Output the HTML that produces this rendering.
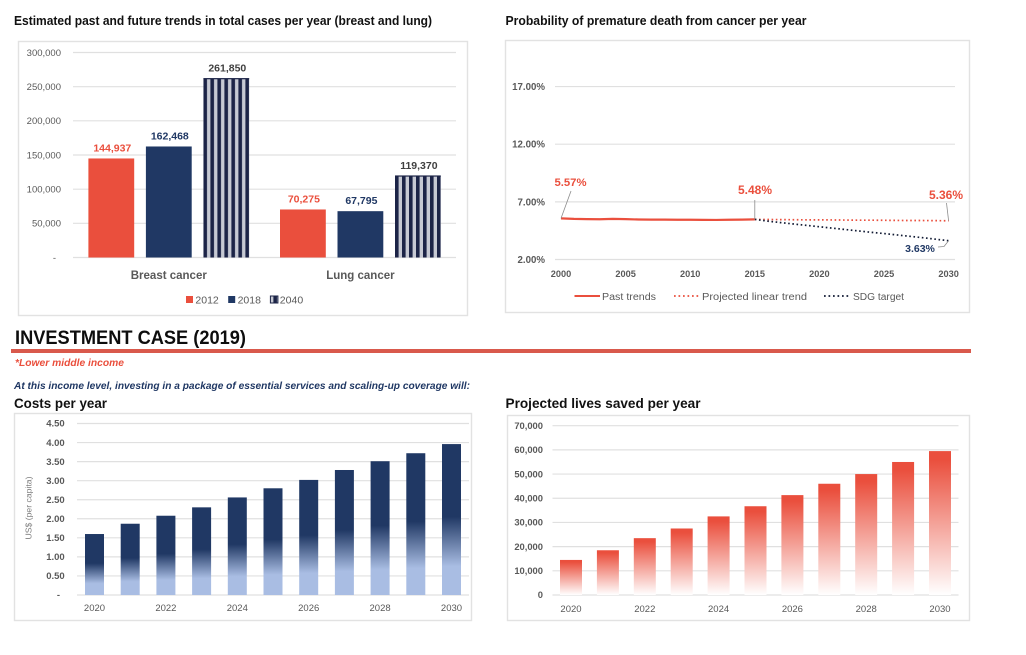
<!DOCTYPE html>
<html lang="en">
<head>
<meta charset="utf-8">
<title>Investment case charts</title>
<style>
html,body{margin:0;padding:0;background:#fff;}
svg{display:block;font-family:"Liberation Sans",sans-serif;}
</style>
</head>
<body>
<svg id="page" xmlns="http://www.w3.org/2000/svg" width="1026" height="655" viewBox="0 0 1026 655">
  <defs id="defs">
    <linearGradient id="navyFade" x1="0" y1="0" x2="0" y2="1">
      <stop offset="0.48" stop-color="#203864"/>
      <stop offset="0.81" stop-color="#a9bde3"/>
    </linearGradient>
    <linearGradient id="redFade" x1="0" y1="0" x2="0" y2="1">
      <stop offset="0.06" stop-color="#ea4f3d"/>
      <stop offset="1" stop-color="#ffffff"/>
    </linearGradient>
  </defs>
  <rect width="1026" height="655" fill="#fff"/>

  <text x="14" y="25" font-size="12.5" font-weight="bold" fill="#111" textLength="418" lengthAdjust="spacingAndGlyphs">Estimated past and future trends in total cases per year (breast and lung)</text>
  <text x="505.5" y="25" font-size="12.5" font-weight="bold" fill="#111" textLength="301" lengthAdjust="spacingAndGlyphs">Probability of premature death from cancer per year</text>

  <rect x="18.5" y="41.5" width="449" height="274" fill="#fff" stroke="#e2e2e2" stroke-width="1.4"/>
  <rect x="505.5" y="40.5" width="464" height="272" fill="#fff" stroke="#e2e2e2" stroke-width="1.4"/>
  <rect x="14.5" y="413.5" width="457" height="207" fill="#fff" stroke="#e2e2e2" stroke-width="1.4"/>
  <rect x="507.5" y="415.5" width="462" height="205" fill="#fff" stroke="#e2e2e2" stroke-width="1.4"/>

  <text x="15" y="344" font-size="19" font-weight="bold" fill="#0d0d0d" textLength="231" lengthAdjust="spacingAndGlyphs">INVESTMENT CASE (2019)</text>
  <rect x="11" y="349" width="960" height="4" fill="#d9594c"/>
  <text x="15" y="366" font-size="10.5" font-weight="bold" font-style="italic" fill="#ea4f3d" textLength="109" lengthAdjust="spacingAndGlyphs">*Lower middle income</text>
  <text x="14" y="389" font-size="10.5" font-weight="bold" font-style="italic" fill="#203864" textLength="456" lengthAdjust="spacingAndGlyphs">At this income level, investing in a package of essential services and scaling-up coverage will:</text>
  <text x="14" y="408" font-size="14" font-weight="bold" fill="#111" textLength="93" lengthAdjust="spacingAndGlyphs">Costs per year</text>
  <text x="505.5" y="408" font-size="14" font-weight="bold" fill="#111" textLength="195" lengthAdjust="spacingAndGlyphs">Projected lives saved per year</text>

  <g id="cases"></g>
  <g id="death"></g>
  <g id="costs"></g>
  <g id="lives"></g>
</svg>

<script>
/* ---------- Cases chart data ---------- */
const caseGroups = ['Breast cancer', 'Lung cancer'];
const caseYears = ['2012', '2018', '2040'];
const cases2012 = [144937, 70275];
const cases2018 = [162468, 67795];
const cases2040 = [261850, 119370];
const caseTicks = [0, 50000, 100000, 150000, 200000, 250000, 300000];
const caseTickLabels = ['-', '50,000', '100,000', '150,000', '200,000', '250,000', '300,000'];

/* ---------- Death probability chart data ---------- */
const deathTicks = [2, 7, 12, 17];
const deathTickLabels = ['2.00%', '7.00%', '12.00%', '17.00%'];
const deathYearLabels = [2000, 2005, 2010, 2015, 2020, 2025, 2030];
const pastYears = [2000, 2001, 2002, 2003, 2004, 2005, 2006, 2007, 2008, 2009, 2010, 2011, 2012, 2013, 2014, 2015];
const pastValues = [5.57, 5.52, 5.50, 5.49, 5.52, 5.50, 5.47, 5.46, 5.46, 5.45, 5.45, 5.44, 5.43, 5.45, 5.46, 5.48];
const futureYears = [2015, 2016, 2017, 2018, 2019, 2020, 2021, 2022, 2023, 2024, 2025, 2026, 2027, 2028, 2029, 2030];
const linearValues = [5.48, 5.47, 5.46, 5.45, 5.44, 5.44, 5.43, 5.42, 5.41, 5.41, 5.40, 5.39, 5.38, 5.38, 5.37, 5.36];
const sdgValues = [5.48, 5.33, 5.20, 5.08, 4.96, 4.84, 4.72, 4.60, 4.48, 4.36, 4.25, 4.13, 4.01, 3.89, 3.76, 3.63];

/* ---------- Costs chart data ---------- */
const costYears = [2020, 2021, 2022, 2023, 2024, 2025, 2026, 2027, 2028, 2029, 2030];
const costValues = [1.60, 1.87, 2.08, 2.30, 2.56, 2.80, 3.02, 3.28, 3.51, 3.72, 3.96];
const costTicks = [0, 0.5, 1, 1.5, 2, 2.5, 3, 3.5, 4, 4.5];
const costTickLabels = ['-', '0.50', '1.00', '1.50', '2.00', '2.50', '3.00', '3.50', '4.00', '4.50'];

/* ---------- Lives chart data ---------- */
const lifeYears = [2020, 2021, 2022, 2023, 2024, 2025, 2026, 2027, 2028, 2029, 2030];
const lifeValues = [14500, 18500, 23500, 27500, 32500, 36700, 41300, 46000, 50000, 55000, 59500];
const lifeTicks = [0, 10000, 20000, 30000, 40000, 50000, 60000, 70000];
const lifeTickLabels = ['0', '10,000', '20,000', '30,000', '40,000', '50,000', '60,000', '70,000'];

const NS = 'http://www.w3.org/2000/svg';
const GRID = '#e0e0e0';
const GREY = '#595959';
const RED = '#ea4f3d';
const NAVY = '#203864';

function mk(parent, tag, attrs, txt) {
  const el = document.createElementNS(NS, tag);
  for (const k in attrs) el.setAttribute(k, attrs[k]);
  if (txt !== undefined) el.textContent = txt;
  parent.appendChild(el);
  return el;
}
function linePath(xs, ys) {
  return xs.map((x, i) => (i ? 'L' : 'M') + x.toFixed(2) + ' ' + ys[i].toFixed(2)).join(' ');
}

/* ========== Cases chart ========== */
(function () {
  const g = document.getElementById('cases');
  const defs = document.getElementById('defs');
  const y = v => 257.5 - v / 300000 * 205;
  const groupW = 191.6, left = 73, barW = 45.8, barStep = 57.5;
  const groupX = i => left + groupW * (i + 0.5);
  const barX = (i, s) => groupX(i) + (s - 1) * barStep - barW / 2;

  caseTicks.forEach((t, i) => {
    const ln = mk(g, 'line', {x1: 73, x2: 456, y1: y(t), y2: y(t), stroke: GRID, 'stroke-width': 1.2});
    
    
    const tx = mk(g, 'text', {x: t === 0 ? 56 : 61, y: y(t) + 3.4, 'text-anchor': 'end', 'font-size': 9.5, fill: GREY}, caseTickLabels[i]);
    
    
  });

  const series = [cases2012, cases2018, cases2040];
  const labelColors = [RED, NAVY, '#404040'];
  series.forEach((vals, s) => {
    vals.forEach((v, i) => {
      let fill;
      if (s === 2) {
        const id = 'stripe' + i;
        const p = mk(defs, 'pattern', {id: id, patternUnits: 'userSpaceOnUse', x: barX(i, s), y: 0, width: 7, height: 10});
        mk(p, 'rect', {x: 0, y: 0, width: 7, height: 10, fill: '#c6c9d3'});
        mk(p, 'rect', {x: 0, y: 0, width: 3.6, height: 10, fill: '#1c2447'});
        fill = 'url(#' + id + ')';
      } else {
        fill = s === 0 ? RED : NAVY;
      }
      const b = mk(g, 'rect', {x: barX(i, s), y: y(v), width: barW, height: y(0) - y(v), fill: fill});
      
      
      if (s === 2) {
        const cap = mk(g, 'rect', {x: barX(i, s), y: y(v) - 0.5, width: barW, height: 1.2, fill: '#1c2447'});
        
        
      }
      const t = mk(g, 'text', {x: barX(i, s) + barW / 2 + 1, y: y(v) - 7, 'text-anchor': 'middle', 'font-size': 10.5, 'font-weight': 'bold', fill: labelColors[s]}, v.toLocaleString('en-US'));
      
      
    });
  });

  caseGroups.forEach((c, i) => {
    const t = mk(g, 'text', {x: groupX(i), y: 279, 'text-anchor': 'middle', 'font-size': 11.5, 'font-weight': 'bold', fill: GREY}, c);
    
    
  });

  caseYears.forEach((yr, i) => {
    const sx = 186 + i * 42.2;
    const sw = mk(g, 'rect', {x: sx, y: 296, width: i === 2 ? 7.5 : 7, height: 7, fill: i === 0 ? RED : i === 1 ? NAVY : 'url(#stripe0)', stroke: i === 2 ? '#1c2447' : 'none'});
    
    
    const t = mk(g, 'text', {x: sx + 9.4, y: 303.5, 'font-size': 10.5, fill: GREY}, yr);
    
    
  });
})();

/* ========== Death probability chart ========== */
(function () {
  const g = document.getElementById('death');
  const y = v => 259.5 - (v - 2) * 11.53;
  const x = yr => 561 + (yr - 2000) * 12.92;

  deathTicks.forEach((t, i) => {
    const ln = mk(g, 'line', {x1: 555, x2: 955, y1: y(t), y2: y(t), stroke: GRID, 'stroke-width': 1.2});
    
    
    const tx = mk(g, 'text', {x: 545, y: y(t) + 3.4, 'text-anchor': 'end', 'font-size': 9.7, 'font-weight': 'bold', fill: GREY}, deathTickLabels[i]);
    
    
  });
  deathYearLabels.forEach(yr => {
    const tx = mk(g, 'text', {x: x(yr), y: 277, 'text-anchor': 'middle', 'font-size': 9.2, 'font-weight': 'bold', fill: GREY}, yr);
    
    
  });

  const fx = futureYears.map(x);
  const linear = mk(g, 'path', {d: linePath(fx, linearValues.map(y)), fill: 'none', stroke: RED, 'stroke-width': 1.7, 'stroke-dasharray': '1.6 2.6'});
  
  
  const sdg = mk(g, 'path', {d: linePath(fx, sdgValues.map(y)), fill: 'none', stroke: '#111a33', 'stroke-width': 1.7, 'stroke-dasharray': '1.6 2.6'});
  
  
  const past = mk(g, 'path', {d: linePath(pastYears.map(x), pastValues.map(y)), fill: 'none', stroke: RED, 'stroke-width': 2.2});
  
  

  const last = a => a[a.length - 1];
  const leaders = [
    [[571, 191], [x(2000), y(pastValues[0])]],
    [[x(2015), 200], [x(2015), y(last(pastValues))]],
    [[946.5, 203], [x(2030), y(last(linearValues))]],
    [[938, 247], [944, 246.5], [x(2030), y(last(sdgValues))]]
  ];
  leaders.forEach(pts => {
    const ln = mk(g, 'polyline', {points: pts.map(p => p.join(',')).join(' '), fill: 'none', stroke: '#8c8c8c', 'stroke-width': 0.8});
    
    
  });

  const labels = [
    [570.5, 186, pastValues[0], RED, 11.3],
    [755, 194, last(pastValues), RED, 12],
    [946, 199, last(linearValues), RED, 12],
    [920, 252, last(sdgValues), NAVY, 10.5]
  ];
  labels.forEach(l => {
    const t = mk(g, 'text', {x: l[0], y: l[1], 'text-anchor': 'middle', 'font-size': l[4], 'font-weight': 'bold', fill: l[3]}, l[2].toFixed(2) + '%');
    
    
  });

  const lg1 = mk(g, 'line', {x1: 574.5, x2: 600, y1: 296, y2: 296, stroke: RED, 'stroke-width': 2});
  
  
  const lt1 = mk(g, 'text', {x: 602, y: 300, 'font-size': 10, fill: GREY, textLength: 54, lengthAdjust: 'spacingAndGlyphs'}, 'Past trends');
  
  
  const lg2 = mk(g, 'line', {x1: 674, x2: 699, y1: 296, y2: 296, stroke: RED, 'stroke-width': 1.7, 'stroke-dasharray': '1.7 2.8'});
  
  
  const lt2 = mk(g, 'text', {x: 702, y: 300, 'font-size': 10, fill: GREY, textLength: 105, lengthAdjust: 'spacingAndGlyphs'}, 'Projected linear trend');
  
  
  const lg3 = mk(g, 'line', {x1: 824, x2: 850, y1: 296, y2: 296, stroke: '#111a33', 'stroke-width': 1.7, 'stroke-dasharray': '1.7 2.8'});
  
  
  const lt3 = mk(g, 'text', {x: 853, y: 300, 'font-size': 10, fill: GREY, textLength: 51, lengthAdjust: 'spacingAndGlyphs'}, 'SDG target');
  
  
})();

/* ========== Costs chart ========== */
(function () {
  const g = document.getElementById('costs');
  const y = v => 595 - v / 4.5 * 171.5;
  const step = 35.7, x0 = 94.5, barW = 19;
  const x = i => x0 + i * step;

  costTicks.forEach((t, i) => {
    const ln = mk(g, 'line', {x1: 77, x2: 469, y1: y(t), y2: y(t), stroke: GRID, 'stroke-width': 1.2});
    
    
    const tx = mk(g, 'text', {x: t === 0 ? 60 : 64.7, y: y(t) + 3.2, 'text-anchor': 'end', 'font-size': 9.5, 'font-weight': 'bold', fill: GREY}, costTickLabels[i]);
    
    
  });
  costValues.forEach((v, i) => {
    const b = mk(g, 'rect', {x: x(i) - barW / 2, y: y(v), width: barW, height: y(0) - y(v), fill: 'url(#navyFade)'});
    
    
  });
  costYears.forEach((yr, i) => {
    if (i % 2) return;
    const t = mk(g, 'text', {x: x(i), y: 611, 'text-anchor': 'middle', 'font-size': 9.5, fill: GREY}, yr);
    
    
  });
  const yt = mk(g, 'text', {x: 0, y: 0, transform: 'translate(31.5,508) rotate(-90)', 'text-anchor': 'middle', 'font-size': 8.5, fill: '#7f7f7f', textLength: 63, lengthAdjust: 'spacingAndGlyphs'}, 'US$ (per capita)');
  
  
})();

/* ========== Lives chart ========== */
(function () {
  const g = document.getElementById('lives');
  const y = v => 595 - v / 70000 * 169.3;
  const step = 36.9, x0 = 571, barW = 22;
  const x = i => x0 + i * step;

  lifeTicks.forEach((t, i) => {
    const ln = mk(g, 'line', {x1: 552.5, x2: 958.5, y1: y(t), y2: y(t), stroke: GRID, 'stroke-width': 1.2});
    
    
    const tx = mk(g, 'text', {x: 543, y: y(t) + 3.2, 'text-anchor': 'end', 'font-size': 9.4, 'font-weight': 'bold', fill: GREY}, lifeTickLabels[i]);
    
    
  });
  lifeValues.forEach((v, i) => {
    const b = mk(g, 'rect', {x: x(i) - barW / 2, y: y(v), width: barW, height: y(0) - y(v), fill: 'url(#redFade)'});
    
    
  });
  lifeYears.forEach((yr, i) => {
    if (i % 2) return;
    const t = mk(g, 'text', {x: x(i), y: 612, 'text-anchor': 'middle', 'font-size': 9.5, fill: GREY}, yr);
    
    
  });
})();
</script>
</body>
</html>
